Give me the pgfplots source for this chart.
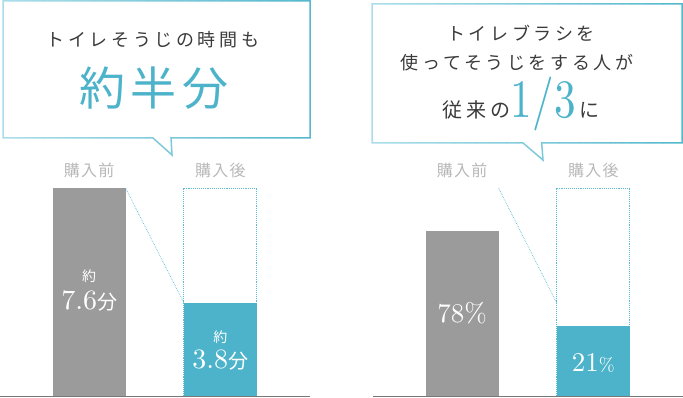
\documentclass[border=0pt]{standalone}
\usepackage{graphicx}
\usepackage{pgfplots}
\pgfplotsset{compat=1.18}
\usepackage{fontspec}
\newfontfamily\cjk{Noto Sans CJK JP}
\newfontfamily\cjkls[LetterSpace=20]{Noto Sans CJK JP}
\newfontfamily\cjkbig[LetterSpace=12]{Noto Sans CJK JP}
\newfontfamily\cjklab[LetterSpace=8]{Noto Sans CJK JP}
\newfontfamily\numfont{lmroman10-regular}[Extension=.otf]
\definecolor{barg}{HTML}{9B9B9B}
\definecolor{barb}{HTML}{4DB3CA}
\definecolor{lab}{HTML}{B8B8B8}
\definecolor{txt}{HTML}{3A3A3A}
\definecolor{bl}{HTML}{AADDE9}
\definecolor{br}{HTML}{55B8CD}
\definecolor{dot}{HTML}{5CBCD2}
\definecolor{base}{HTML}{777777}
\begin{document}
\begin{tikzpicture}[x=1pt,y=1pt]
\useasboundingbox (0,0) rectangle (683,398);
% left bubble (gradient border)
\foreach \i in {0,...,29}{
  \pgfmathsetmacro\xa{2+\i*309/30}
  \pgfmathsetmacro\xb{2+(\i+1)*309/30+0.3}
  \pgfmathtruncatemacro\pc{100*\i/29}
  \begin{scope}
    \clip (\xa,0) rectangle (\xb,398);
    \draw[line width=1.5, color=br!\pc!bl, line join=miter]
      (3,397) -- (310,397) -- (310,260) -- (171,260) -- (172,243) -- (153,260) -- (3,260) -- cycle;
  \end{scope}
}
% right bubble
\foreach \i in {0,...,29}{
  \pgfmathsetmacro\xa{371+\i*312/30}
  \pgfmathsetmacro\xb{371+(\i+1)*312/30+0.3}
  \pgfmathtruncatemacro\pc{100*\i/29}
  \begin{scope}
    \clip (\xa,0) rectangle (\xb,398);
    \draw[line width=1.5, color=br!\pc!bl, line join=miter]
      (372,394) -- (682,394) -- (682,255) -- (541.7,255) -- (543,238) -- (523,255) -- (372,255) -- cycle;
  \end{scope}
}
% bubble texts
\node[text=txt, font=\cjkls\fontsize{18}{18}\selectfont] at (153,358) {トイレそうじの時間も};
\node[text=barb, font=\cjkbig\fontsize{46}{46}\selectfont] at (154,310) {約半分};
\node[text=txt, font=\cjkls\fontsize{18}{18}\selectfont] at (521,365) {トイレブラシを};
\node[text=txt, font=\cjkls\fontsize{18}{18}\selectfont] at (517,335) {使ってそうじをする人が};
\node[anchor=base, inner sep=0] at (521,280.5) {{\color{txt}\cjkls\fontsize{20}{20}\selectfont 従来の}{\color{barb}\scalebox{0.8}[1]{\numfont\fontsize{54}{54}\selectfont 1/3}}{\color{txt}\cjk\fontsize{20}{20}\selectfont\,に}};

% left chart
\begin{axis}[at={(0pt,1.5pt)}, anchor=south west, scale only axis, width=310pt, height=208.2pt,
  xmin=-0.6804, xmax=1.684, ymin=0, ymax=7.6, hide axis, clip=false]
\addplot[ybar, bar width=0.557, bar shift=0pt, draw=dot, densely dotted, fill=white, line width=0.9] coordinates {(1,7.6)};
\addplot[ybar, bar width=0.557, bar shift=0pt, draw=none, fill=barg] coordinates {(0,7.6)};
\addplot[ybar, bar width=0.557, bar shift=0pt, draw=none, fill=barb] coordinates {(1,3.42)};
\addplot[sharp plot, densely dotted, draw=dot, line width=0.7, mark=none] coordinates {(0.2785,7.6) (0.7215,3.42)};
\draw[base, line width=1.5] (rel axis cs:0,0) -- (rel axis cs:1,0);
\node[text=lab, font=\cjklab\fontsize{16}{16}\selectfont] at (axis cs:0,8.27) {購入前};
\node[text=lab, font=\cjklab\fontsize{16}{16}\selectfont] at (axis cs:1,8.27) {購入後};
\node[text=white, font=\cjk\fontsize{14}{14}\selectfont] at (axis cs:0,4.38) {約};
\node[text=white] at (axis cs:0,3.48) {{\numfont\fontsize{28}{28}\selectfont 7.6}{\cjk\fontsize{20}{20}\selectfont 分}};
\node[text=white, font=\cjk\fontsize{14}{14}\selectfont] at (axis cs:1,2.17) {約};
\node[text=white] at (axis cs:1,1.33) {{\numfont\fontsize{28}{28}\selectfont 3.8}{\cjk\fontsize{20}{20}\selectfont 分}};
\end{axis}

% right chart
\begin{axis}[at={(373pt,1.5pt)}, anchor=south west, scale only axis, width=310pt, height=208.2pt,
  xmin=-0.6804, xmax=1.684, ymin=0, ymax=100, hide axis, clip=false]
\addplot[ybar, bar width=0.557, bar shift=0pt, draw=dot, densely dotted, fill=white, line width=0.9] coordinates {(1,100)};
\addplot[ybar, bar width=0.557, bar shift=0pt, draw=none, fill=barg] coordinates {(0,79.5)};
\addplot[ybar, bar width=0.557, bar shift=0pt, draw=none, fill=barb] coordinates {(1,33.9)};
\addplot[sharp plot, densely dotted, draw=dot, line width=0.7, mark=none] coordinates {(0.2785,100) (0.7215,44.8)};
\draw[base, line width=1.5] (rel axis cs:0,0) -- (rel axis cs:1,0);
\node[text=lab, font=\cjklab\fontsize{16}{16}\selectfont] at (axis cs:0,108.8) {購入前};
\node[text=lab, font=\cjklab\fontsize{16}{16}\selectfont] at (axis cs:1,108.8) {購入後};
\node[text=white] at (axis cs:0,40.1) {\numfont\fontsize{27}{27}\selectfont 78\%};
\node[text=white] at (axis cs:1,16.1) {{\numfont\fontsize{27}{27}\selectfont 21}{\numfont\fontsize{19}{19}\selectfont\%}};
\end{axis}
\end{tikzpicture}
\end{document}
